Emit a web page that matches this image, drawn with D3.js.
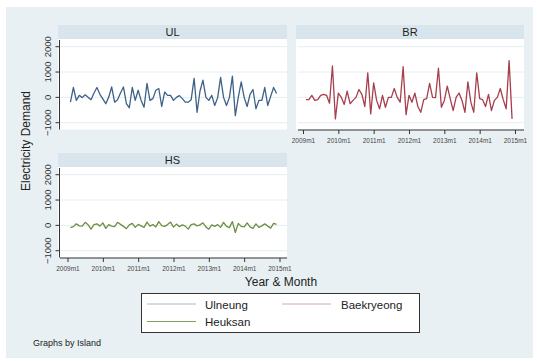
<!DOCTYPE html>
<html>
<head>
<meta charset="utf-8">
<script src="https://cdn.jsdelivr.net/npm/d3@7"></script>
<style>
  html, body { margin: 0; padding: 0; background: #ffffff; }
  svg { display: block; font-family: "Liberation Sans", Arial, sans-serif; }
</style>
</head>
<body>
<svg id="chart" width="537" height="361"></svg>
<script>
// Monthly change in electricity demand, 2009m2 .. 2014m12, by island
const months = d3.range(1, 72); // month index counted from 2009m1 = 0
const ulneung = [
  -190, 390, -120, 80, -10, 100, 0, -90, 170, 390, 120, -60, -250, 10, 410, -190,
  -90, 170, 410, -250, -410, 390, -120, 280, -120, -390, 550, -120, -50, 280, 350,
  -360, 210, 80, 80, -120, 0, 70, -50, -190, -190, -90, 750, -590, 250, 680, 0,
  -120, 80, -320, -10, 790, 0, -320, 0, 840, -720, 0, 610, 0, -360, 120, 310,
  -450, -120, -120, 390, -320, 40, 390, 150
];
const baekryeong = [
  -90, -90, 80, -120, -90, 80, 120, 80, -230, 1240, -850, 170, 0, -280, 250, -250,
  -120, 0, 310, 120, -360, 970, -650, 570, -120, -450, 80, -390, 0, 0, 350, 0,
  -190, 1210, -680, 80, -190, 170, -360, -590, -90, -50, 550, 0, -10, 1150, -390,
  -120, 440, -50, -520, 0, 170, -120, -590, 610, -190, -590, 970, -50, -90, -360,
  120, -520, -120, 0, 350, -90, -450, 1450, -850
];
const heuksan = [
  -90, -50, 60, -20, -30, 120, 20, -150, 30, 60, -30, 100, -120, 30, -30, -50,
  120, 40, -40, -130, 20, 80, -80, 40, -20, -80, 130, -30, 30, -60, 150, -10,
  -40, 30, 130, -70, 50, -50, 20, -30, -150, 30, 60, -20, 20, 100, -60, -150,
  20, -40, 30, -80, 120, -40, -90, 150, -280, 80, -40, -60, 100, -60, -120, 60,
  -80, -20, 60, -30, -110, 80, 40
];
const islands = ["UL", "BR", "HS"];
const legendNames = ["Ulneung", "Baekryeong", "Heuksan"];
const yTicks = [-1000, 0, 1000, 2000];
const xTickMonths = [0, 12, 24, 36, 48, 60, 72];
const xTickLabels = ["2009m1", "2010m1", "2011m1", "2012m1", "2013m1", "2014m1", "2015m1"];

const seriesValues = [ulneung, baekryeong, heuksan];
const colors = ["#3e6288", "#a63f4c", "#6e8f42"];

const svg = d3.select("#chart");

// soft rendering for the series lines
const defs = svg.append("defs");
defs.append("filter").attr("id", "soft").attr("x", "-5%").attr("y", "-5%")
  .attr("width", "110%").attr("height", "110%")
  .append("feGaussianBlur").attr("stdDeviation", 0.35);

// graph background
svg.append("rect").attr("x", 6).attr("y", 7).attr("width", 527).attr("height", 351)
  .attr("fill", "#e9f0f3");

// panel layout
const panels = [
  {left: 58, right: 287, top: 25, bottom: 129.5, col: 0, row: 0, yAxis: true, xAxis: false},
  {left: 296, right: 524, top: 25, bottom: 129.5, col: 1, row: 0, yAxis: false, xAxis: true},
  {left: 58, right: 287, top: 153, bottom: 257.5, col: 0, row: 1, yAxis: true, xAxis: true}
];
const stripH = 14;

panels.forEach((p, i) => {
  const g = svg.append("g");
  const plotTop = p.top + stripH;
  const xOff = p.col === 0 ? 0 : 235.5;
  const yOff = p.row === 0 ? 0 : 128;
  const x = d3.scaleLinear().domain([0, 72]).range([67.5 + xOff, 279.5 + xOff]);
  const y = d3.scaleLinear().domain([-1000, 2000]).range([122.7 + yOff, 46.7 + yOff]);

  // strip
  g.append("rect").attr("x", p.left).attr("y", p.top).attr("width", p.right - p.left)
    .attr("height", stripH).attr("fill", "#d8e5ec");
  g.append("text").attr("x", (p.left + p.right) / 2).attr("y", p.top + 11)
    .attr("text-anchor", "middle").attr("font-size", 11).attr("fill", "#1e1e1e")
    .text(islands[i]);

  // plot region
  g.append("rect").attr("x", p.left).attr("y", plotTop).attr("width", p.right - p.left)
    .attr("height", p.bottom - plotTop).attr("fill", "#ffffff");

  // gridlines
  g.selectAll("line.grid").data(yTicks).join("line")
    .attr("x1", p.left + 2).attr("x2", p.right)
    .attr("y1", d => y(d)).attr("y2", d => y(d))
    .attr("stroke", "#e6eef1").attr("stroke-width", 1);

  if (p.yAxis) {
    const ax = g.append("g").attr("transform", `translate(${p.left + 1.5},0)`)
      .call(d3.axisLeft(y).tickValues(yTicks).tickSize(4).tickPadding(3).tickFormat(d3.format("d")));
    ax.select(".domain").attr("stroke", "#333").attr("d", `M0,${plotTop + 1}V${p.bottom}`);
    ax.selectAll(".tick").attr("transform", null);
    ax.selectAll(".tick line").attr("stroke", "#333")
      .attr("y1", d => y(d)).attr("y2", d => y(d));
    ax.selectAll(".tick text")
      .attr("font-size", 9.5).attr("fill", "#333")
      .attr("text-anchor", "middle").attr("x", 0).attr("y", 0).attr("dy", 0)
      .attr("transform", d => `translate(-9,${y(d)}) rotate(-90)`);
  }
  if (p.xAxis) {
    const axisY = p.bottom + 0.5;
    const ax = g.append("g").attr("transform", `translate(0,${axisY})`)
      .call(d3.axisBottom(x).tickValues(xTickMonths).tickSize(4).tickPadding(4)
        .tickFormat((d, k) => xTickLabels[k]));
    ax.select(".domain").attr("stroke", "#333").attr("d", `M${p.left + 2},0H${p.right}`);
    ax.selectAll(".tick line").attr("stroke", "#333");
    ax.selectAll(".tick text").attr("font-size", 6.5).attr("fill", "#444");
  }

  // series line
  const line = d3.line().x((d, k) => x(months[k])).y(d => y(d));
  g.append("path").datum(seriesValues[i]).attr("d", line)
    .attr("fill", "none").attr("stroke", colors[i]).attr("stroke-width", 1.3)
    .attr("stroke-linejoin", "round").attr("filter", "url(#soft)");
});

// axis titles
svg.append("text").attr("transform", "translate(30,141) rotate(-90)")
  .attr("text-anchor", "middle").attr("font-size", 12).attr("fill", "#222")
  .text("Electricity Demand");
svg.append("text").attr("x", 281).attr("y", 286)
  .attr("text-anchor", "middle").attr("font-size", 12).attr("fill", "#222")
  .text("Year & Month");

// legend
const lg = svg.append("g");
lg.append("rect").attr("x", 141.5).attr("y", 293.5).attr("width", 278).attr("height", 39)
  .attr("fill", "#ffffff").attr("stroke", "#333").attr("stroke-width", 1);
const legendPos = [[147, 304], [282, 304], [147, 321.5]];
legendNames.forEach((name, i) => {
  const [lx, ly] = legendPos[i];
  lg.append("line").attr("x1", lx).attr("x2", lx + 49).attr("y1", ly).attr("y2", ly)
    .attr("stroke", colors[i]).attr("stroke-width", 1).attr("opacity", i === 2 ? 0.85 : 0.45);
  lg.append("text").attr("x", lx + 58 + (i === 1 ? 1 : 0)).attr("y", ly + 4.5)
    .attr("font-size", 11.5).attr("fill", "#222").text(name);
});

svg.append("text").attr("x", 33).attr("y", 346).attr("font-size", 9).attr("fill", "#222")
  .text("Graphs by Island");
</script>
</body>
</html>
